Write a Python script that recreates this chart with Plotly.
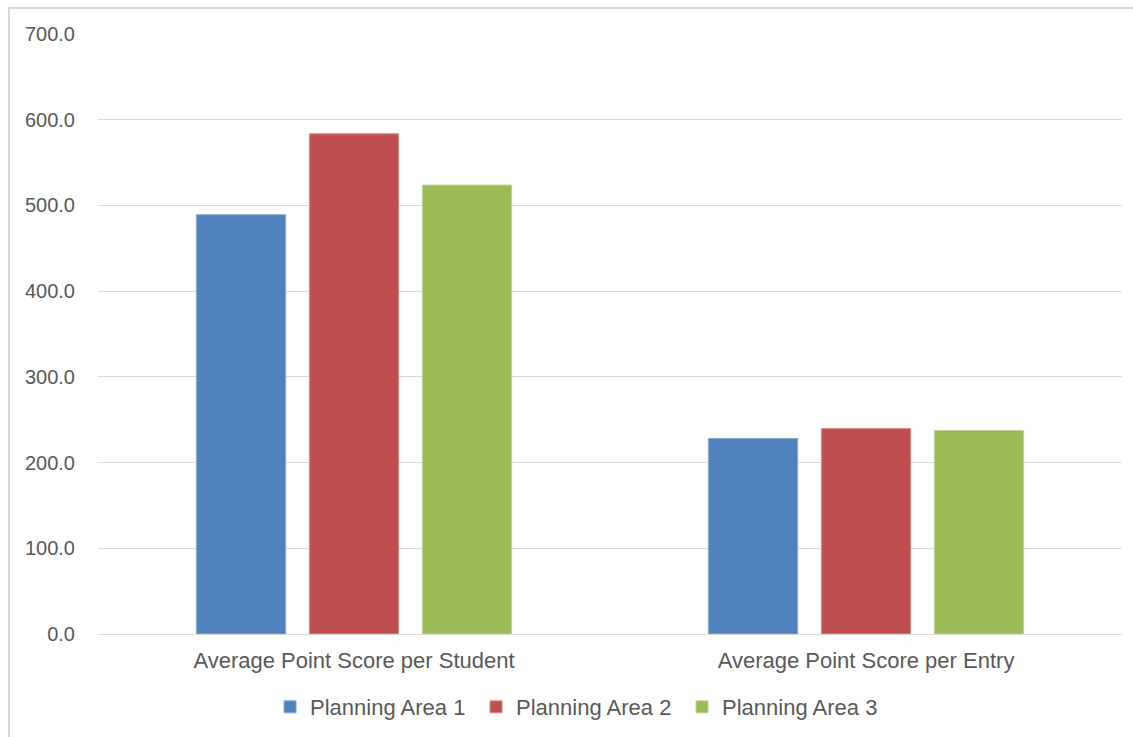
import plotly.graph_objects as go

categories = ["Average Point Score per Student", "Average Point Score per Entry"]
series_names = ["Planning Area 1", "Planning Area 2", "Planning Area 3"]
pa1 = [489.2, 228.1]
pa2 = [583.6, 239.7]
pa3 = [523.7, 237.4]
colors = ["#4F81BD", "#C0504D", "#9BBB59"]
line_colors = ["#8AAAD6", "#D98C8A", "#BDD597"]
y_ticks = [0, 100, 200, 300, 400, 500, 600, 700]
y_tick_labels = ["0.0", "100.0", "200.0", "300.0", "400.0", "500.0", "600.0", "700.0"]

fig = go.Figure()
for name, vals, c, lc in zip(series_names, [pa1, pa2, pa3], colors, line_colors):
    fig.add_trace(go.Bar(
        x=categories, y=vals, name=name,
        marker=dict(color=c, line=dict(color=lc, width=1)),
    ))

font_family = "Liberation Sans, Arial, sans-serif"
fig.update_layout(
    width=1133, height=737,
    margin=dict(l=98, r=11, t=34, b=103, autoexpand=False),
    paper_bgcolor="white", plot_bgcolor="white",
    barmode="group", bargap=0.338, bargroupgap=0.21,
    font=dict(family=font_family, color="#595959", size=20),
    showlegend=True,
    legend=dict(
        orientation="h", x=0.168, xanchor="left", y=-0.1217, yanchor="middle",
        font=dict(size=22, color="#595959", family=font_family),
        entrywidth=161, entrywidthmode="pixels",
        traceorder="normal",
    ),
    xaxis=dict(
        showgrid=False, showline=True, linecolor="#D9D9D9", linewidth=1,
        ticks="", tickfont=dict(size=22, color="#595959"),
        ticklabelstandoff=7, automargin=False,
    ),
    yaxis=dict(
        range=[0, 700], tickvals=y_ticks, ticktext=y_tick_labels,
        showgrid=True, gridcolor="#D9D9D9", gridwidth=1,
        zeroline=False, showline=False, ticks="",
        tickfont=dict(size=20, color="#595959"),
        ticklabelstandoff=22, automargin=False,
    ),
    shapes=[
        dict(type="rect", xref="paper", yref="paper",
             x0=-0.0869, x1=1.2, y0=-0.3, y1=1.0433,
             line=dict(color="#D9D9D9", width=2), fillcolor="rgba(0,0,0,0)", layer="below"),
    ],
)

fig.write_html(
    "out.html",
    config={"displayModeBar": False},
    post_script="document.body.style.margin='0';document.body.style.overflow='hidden';",
)
